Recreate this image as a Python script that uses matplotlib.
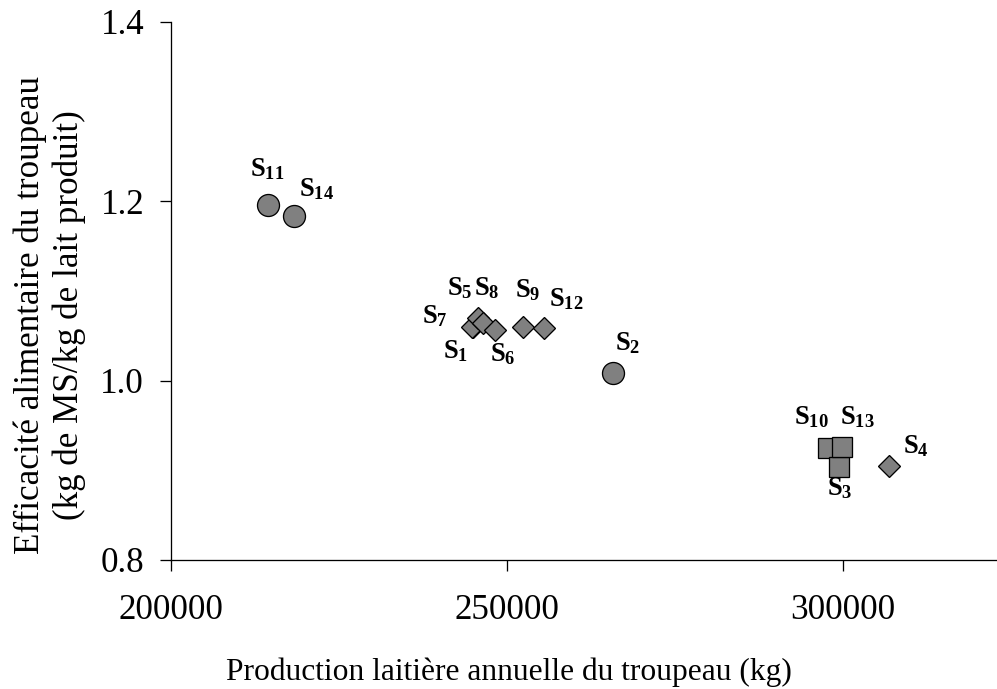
import matplotlib
matplotlib.use("Agg")
import matplotlib.pyplot as plt

plt.rcParams['font.family'] = ['Liberation Serif', 'DejaVu Serif']
plt.rcParams['mathtext.fontset'] = 'custom'
plt.rcParams['mathtext.rm'] = 'Liberation Serif'
plt.rcParams['mathtext.bf'] = 'Liberation Serif:bold'
plt.rcParams['mathtext.it'] = 'Liberation Serif:italic'

# ---- data ----
circle_names = ['S11', 'S14', 'S2']
circle_x = [214400, 218260, 265730]
circle_y = [1.196, 1.184, 1.009]

diamond_names = ['S1', 'S7', 'S5', 'S8', 'S6', 'S9', 'S12', 'S4']
diamond_x = [244900, 244800, 245730, 246470, 248210, 252340, 255550, 306850]
diamond_y = [1.0595, 1.060, 1.0695, 1.064, 1.0565, 1.0602, 1.0584, 0.9052]

square_names = ['S10', 'S3', 'S13']
square_x = [297810, 299450, 299810]
square_y = [0.9246, 0.904, 0.9264]

x_ticks = [200000, 250000, 300000]
y_ticks = [0.8, 1.0, 1.2, 1.4]
x_label = 'Production laitière annuelle du troupeau (kg)'
y_label = 'Efficacité alimentaire du troupeau\n(kg de MS/kg de lait produit)'

# label offsets (points) relative to marker: left edge / baseline of label
label_offsets = {
    'S11': (-18, 29), 'S14': (5.5, 20), 'S5': (-31.5, 23), 'S8': (-9.5, 28),
    'S7': (-50, 4), 'S1': (-30, -31), 'S6': (-5, -31), 'S9': (-7.5, 29.5),
    'S12': (4.5, 22), 'S2': (2.5, 22), 'S10': (-34.5, 24), 'S13': (-1.5, 22.5),
    'S3': (-12.5, -28.5), 'S4': (14, 13),
}

W, H, DPI = 997, 689, 72
fig = plt.figure(figsize=(W / DPI, H / DPI), dpi=DPI)
ax = fig.add_axes([171 / W, (H - 560) / H, (W - 171) / W, (560 - 22) / H])

fill = '#808080'
ax.plot(circle_x, circle_y, 'o', ms=22, mfc=fill, mec='black', mew=1.3, ls='none', zorder=3)
ax.plot(diamond_x, diamond_y, 'D', ms=15, mfc=fill, mec='black', mew=1.3, ls='none', zorder=3)
ax.plot(square_x, square_y, 's', ms=20, mfc=fill, mec='black', mew=1.3, ls='none', zorder=3)

for names, xs, ys in [(circle_names, circle_x, circle_y),
                      (diamond_names, diamond_x, diamond_y),
                      (square_names, square_x, square_y)]:
    for n, x, y in zip(names, xs, ys):
        dx, dy = label_offsets[n]
        ax.annotate(r'$\mathbf{S_{%s}}$' % n[1:], (x, y), xytext=(dx, dy),
                    textcoords='offset points', ha='left', va='baseline',
                    fontsize=26.5, zorder=4)

ax.set_xlim(200000, 200000 + (W - 171) * 50000 / 336)
ax.set_ylim(0.8, 1.4)
ax.set_xticks(x_ticks)
ax.set_xticklabels([str(v) for v in x_ticks])
ax.set_yticks(y_ticks)
ax.set_yticklabels(['%.1f' % v for v in y_ticks])

for s in ['top', 'right']:
    ax.spines[s].set_visible(False)
for s in ['left', 'bottom']:
    ax.spines[s].set_linewidth(1.3)
ax.tick_params(axis='both', direction='out', length=11, width=1.3, labelsize=35)
ax.tick_params(axis='x', pad=23)
ax.tick_params(axis='y', pad=16)

fig.text(509 / W, 9 / H, x_label, fontsize=31.5, ha='center', va='baseline')
fig.text(50 / W, (H - 315) / H, y_label, fontsize=35, ha='center', va='center',
         rotation=90, multialignment='center')

fig.savefig('out.png', dpi=DPI)
